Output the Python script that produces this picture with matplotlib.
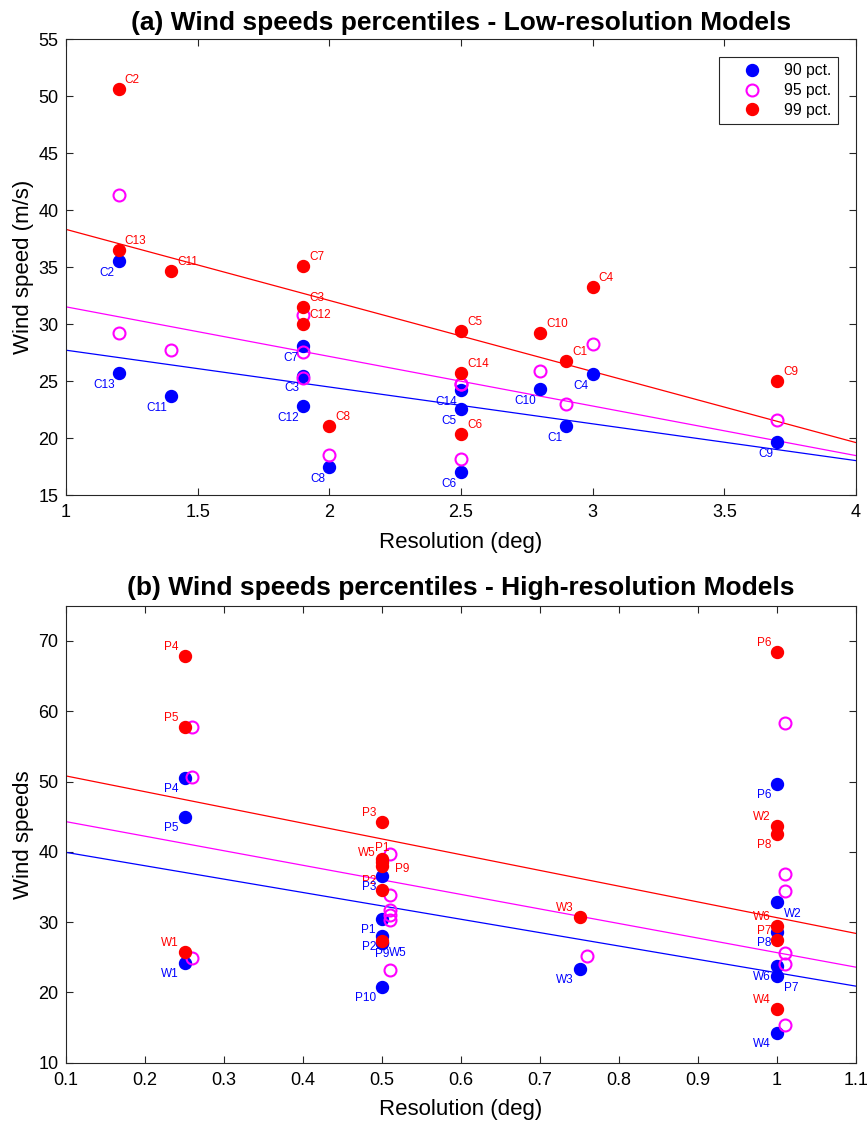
import matplotlib
matplotlib.use("Agg")
import matplotlib.pyplot as plt
import numpy as np

plt.rcParams['font.family'] = ['Liberation Sans', 'DejaVu Sans']

# ---------------- data: low-resolution models ----------------
low_models = ['C1', 'C2', 'C3', 'C4', 'C5', 'C6', 'C7', 'C8', 'C9', 'C10', 'C11', 'C12', 'C13', 'C14']
low_res = [2.9, 1.2, 1.9, 3.0, 2.5, 2.5, 1.9, 2.0, 3.7, 2.8, 1.4, 1.9, 1.2, 2.5]
low_p90 = [21.1, 35.5, 25.5, 25.6, 22.6, 17.0, 28.1, 17.5, 19.7, 24.3, 23.7, 22.8, 25.7, 24.2]
low_p95 = [23.0, 41.3, 25.3, 28.3, 24.8, 18.2, 27.6, 18.5, 21.6, 25.9, 27.7, 30.8, 29.2, 24.8]
low_p99 = [26.8, 50.6, 31.5, 33.3, 29.4, 20.4, 35.1, 21.1, 25.0, 29.2, 34.7, 30.0, 36.5, 25.7]
# trend lines (values at x = 1 and x = 4)
low_fit_x = [1.0, 4.0]
low_fit_p90 = [27.72, 18.04]
low_fit_p95 = [31.52, 18.48]
low_fit_p99 = [38.31, 19.62]

# ---------------- data: high-resolution models ----------------
high_models = ['P1', 'P2', 'P3', 'P4', 'P5', 'P6', 'P7', 'P8', 'P9', 'P10',
               'W1', 'W2', 'W3', 'W4', 'W5', 'W6']
high_res = [0.5, 0.5, 0.5, 0.25, 0.25, 1.0, 1.0, 1.0, 0.5, 0.5,
            0.25, 1.0, 0.75, 1.0, 0.5, 1.0]
high_p90 = [30.4, 28.1, 36.6, 50.5, 44.9, 49.7, 22.3, 28.6, 27.0, 20.8,
            24.2, 32.8, 23.3, 14.2, 27.0, 23.7]
high_p95 = [39.7, 31.0, 33.8, 50.7, 57.7, 58.3, 24.1, 34.4, 30.3, 23.2,
            24.9, 36.8, 25.2, 15.4, 31.7, 25.6]
high_p99 = [39.0, 34.6, 44.2, 67.9, 57.8, 68.4, 27.4, 42.5, 38.0, 27.3,
            25.8, 43.7, 30.8, 17.6, 38.5, 29.5]
# trend lines (values at x = 0.1 and x = 1.1)
high_fit_x = [0.1, 1.1]
high_fit_p90 = [39.93, 20.9]
high_fit_p95 = [44.3, 23.6]
high_fit_p99 = [50.8, 28.4]

series_labels = ['90 pct.', '95 pct.', '99 pct.']

# ---------------- styling ----------------
BLUE, MAG, RED = '#0000FF', '#FF00FF', '#FF0000'
AXC = '#262626'
PX = 0.72  # points per pixel at dpi 100
MS = 8.6
TICK_FS = 13
LAB_FS = 16
TITLE_FS = 19
PT_FS = 8.5

fig = plt.figure(figsize=(8.68, 11.23), dpi=100)
W, H = 868.0, 1123.0
ax1 = fig.add_axes([66 / W, 1 - 495.3 / H, (856 - 66) / W, (495.3 - 39) / H])
ax2 = fig.add_axes([66 / W, 1 - 1062.8 / H, (856 - 66) / W, (1062.8 - 605.8) / H])


def style_axes(ax):
    for s in ax.spines.values():
        s.set_color(AXC)
        s.set_linewidth(0.8)
    ax.tick_params(direction='in', top=True, right=True, length=5.2, width=0.8,
                   color=AXC, labelsize=TICK_FS, labelcolor='black')
    ax.tick_params(axis='y', pad=5.5)
    ax.tick_params(axis='x', pad=6.5)


def label(ax, x, y, text, color, ha, dx, dy):
    ax.annotate(text, (x, y), xytext=(dx * PX, dy * PX), textcoords='offset points',
                ha=ha, va='center', color=color, fontsize=PT_FS)


# ---------------- panel (a) ----------------
ax = ax1
ax.plot(low_fit_x, low_fit_p90, color=BLUE, lw=0.9)
ax.plot(low_fit_x, low_fit_p95, color=MAG, lw=0.9)
ax.plot(low_fit_x, low_fit_p99, color=RED, lw=0.9)
h1, = ax.plot(low_res, low_p90, 'o', color=BLUE, ms=MS, mec=BLUE, mfc=BLUE, label=series_labels[0])
h2, = ax.plot(low_res, low_p95, 'o', color=MAG, ms=MS, mec=MAG, mfc='none', mew=1.5, label=series_labels[1])
h3, = ax.plot(low_res, low_p99, 'o', color=RED, ms=MS, mec=RED, mfc=RED, label=series_labels[2])
for name, x, yb, yr in zip(low_models, low_res, low_p90, low_p99):
    label(ax, x, yr, name, RED, 'left', 6, 9)
    label(ax, x, yb, name, BLUE, 'right', -4, -12)
ax.set_xlim(1, 4)
ax.set_ylim(15, 55)
ax.set_xticks([1, 1.5, 2, 2.5, 3, 3.5, 4])
ax.set_xticklabels(['1', '1.5', '2', '2.5', '3', '3.5', '4'])
ax.set_yticks(np.arange(15, 56, 5))
style_axes(ax)
ax.set_xlabel('Resolution (deg)', fontsize=LAB_FS, labelpad=7.5)
ax.set_ylabel('Wind speed (m/s)', fontsize=LAB_FS, labelpad=3)
ax.set_title('(a) Wind speeds percentiles - Low-resolution Models',
             fontsize=TITLE_FS, fontweight='bold', pad=6.5)
leg = ax.legend(handles=[h1, h2, h3], loc='upper right', fontsize=11.3,
                frameon=True, fancybox=False, edgecolor=AXC, framealpha=1,
                borderpad=0.4, handlelength=3.4, handletextpad=0.37,
                labelspacing=0.3, borderaxespad=1.15, numpoints=1)
leg.get_frame().set_linewidth(0.8)

# ---------------- panel (b) ----------------
red_off = {'P1': ('center', 0, 11), 'P9': ('left', 13, -3), 'P8': ('right', -6, -11), 'P10': None}
blue_off = {'W2': ('left', 7, -12), 'P7': ('left', 7, -12), 'P9': ('center', 0, -11),
            'W5': ('left', 7, -10)}
ax = ax2
ax.plot(high_fit_x, high_fit_p90, color=BLUE, lw=0.9)
ax.plot(high_fit_x, high_fit_p95, color=MAG, lw=0.9)
ax.plot(high_fit_x, high_fit_p99, color=RED, lw=0.9)
ax.plot(high_res, high_p90, 'o', color=BLUE, ms=MS, mec=BLUE, mfc=BLUE)
ax.plot(np.array(high_res) + 0.01, high_p95, 'o', color=MAG, ms=MS, mec=MAG, mfc='none', mew=1.5)
ax.plot(high_res, high_p99, 'o', color=RED, ms=MS, mec=RED, mfc=RED)
for name, x, yr in zip(high_models, high_res, high_p99):
    o = red_off.get(name, ('right', -6, 9))
    if o is not None:
        label(ax, x, yr, name, RED, *o)
for name, x, yb in zip(high_models, high_res, high_p90):
    o = blue_off.get(name, ('right', -6, -11))
    label(ax, x, yb, name, BLUE, *o)
ax.set_xlim(0.1, 1.1)
ax.set_ylim(10, 75)
ax.set_xticks(np.round(np.arange(0.1, 1.11, 0.1), 1))
ax.set_xticklabels(['0.1', '0.2', '0.3', '0.4', '0.5', '0.6', '0.7', '0.8', '0.9', '1', '1.1'])
ax.set_yticks(np.arange(10, 71, 10))
style_axes(ax)
ax.set_xlabel('Resolution (deg)', fontsize=LAB_FS, labelpad=7.5)
ax.set_ylabel('Wind speeds', fontsize=LAB_FS, labelpad=3)
ax.set_title('(b) Wind speeds percentiles - High-resolution Models',
             fontsize=TITLE_FS, fontweight='bold', pad=8)

fig.savefig('out.png', dpi=100)
